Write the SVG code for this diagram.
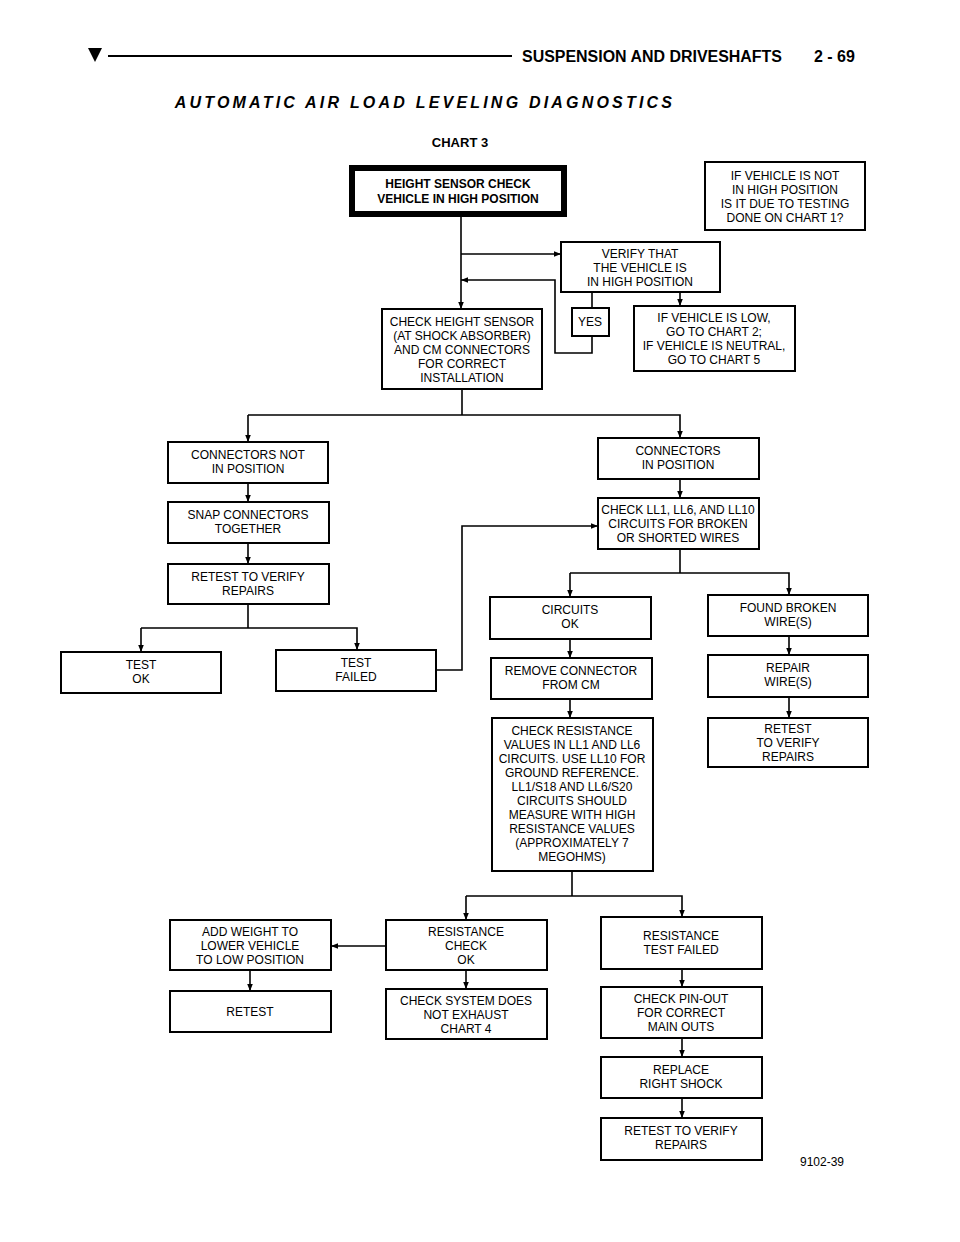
<svg xmlns="http://www.w3.org/2000/svg" width="960" height="1242" viewBox="0 0 960 1242">
<defs>
<marker id="ar" viewBox="0 0 10 10" refX="10" refY="5" markerWidth="7" markerHeight="7" orient="auto" markerUnits="userSpaceOnUse"><path d="M0,1 L10,5 L0,9 Z" fill="#000"/></marker>
</defs>
<style>
.b{fill:#fff;stroke:#000;stroke-width:2}
.t{font-family:"Liberation Sans",Arial,sans-serif;font-size:12px;text-anchor:middle;fill:#000}
.c{fill:none;stroke:#000;stroke-width:1.6}
.a{marker-end:url(#ar)}
</style>
<rect width="960" height="1242" fill="#fff"/>
<path d="M88,48 L102,48 L95,62 Z" fill="#000"/>
<line x1="108" y1="56" x2="512" y2="56" stroke="#000" stroke-width="2"/>
<text x="522" y="62" font-family="Liberation Sans,Arial,sans-serif" font-size="16" font-weight="bold" textLength="260" lengthAdjust="spacingAndGlyphs">SUSPENSION AND DRIVESHAFTS</text>
<text x="814" y="62" font-family="Liberation Sans,Arial,sans-serif" font-size="16" font-weight="bold">2 - 69</text>
<text x="425" y="108" font-family="Liberation Sans,Arial,sans-serif" font-size="16" font-weight="bold" font-style="italic" text-anchor="middle" letter-spacing="3.2">AUTOMATIC AIR LOAD LEVELING DIAGNOSTICS</text>
<text x="460" y="147" font-family="Liberation Sans,Arial,sans-serif" font-size="13" font-weight="bold" text-anchor="middle">CHART 3</text>
<text x="800" y="1166" font-family="Liberation Sans,Arial,sans-serif" font-size="12">9102-39</text>
<g id="connectors">
<path class="c a" d="M461,215 V309"/>
<path class="c a" d="M461,254 H561"/>
<path class="c" d="M592,292 V308"/>
<path class="c a" d="M592,336 V353 H555 V280 H461"/>
<path class="c a" d="M680,292 V306"/>
<path class="c" d="M462,389 V415"/>
<path class="c a" d="M248,415 H680 V438"/>
<path class="c a" d="M248,415 V442"/>
<path class="c a" d="M248,483 V502"/>
<path class="c a" d="M248,543 V564"/>
<path class="c" d="M248,604 V628"/>
<path class="c a" d="M141,628 H357 V650"/>
<path class="c a" d="M141,628 V652"/>
<path class="c a" d="M436,670 H462 V526 H598"/>
<path class="c a" d="M680,479 V498"/>
<path class="c" d="M680,549 V573"/>
<path class="c a" d="M570,573 H789 V595"/>
<path class="c a" d="M570,573 V597"/>
<path class="c a" d="M570,639 V658"/>
<path class="c a" d="M570,699 V718"/>
<path class="c a" d="M789,636 V655"/>
<path class="c a" d="M789,697 V718"/>
<path class="c" d="M572,871 V896"/>
<path class="c a" d="M466,896 H682 V917"/>
<path class="c a" d="M466,896 V920"/>
<path class="c a" d="M386,946 H331"/>
<path class="c a" d="M250,970 V991"/>
<path class="c a" d="M466,970 V989"/>
<path class="c a" d="M682,969 V987"/>
<path class="c a" d="M682,1038 V1057"/>
<path class="c a" d="M682,1098 V1118"/>
</g>
<g id="n-start"><rect x="352" y="168" width="212" height="46" fill="#fff" stroke="#000" stroke-width="6"/><text class="t" font-weight="bold" font-size="12.5" x="458" y="188">HEIGHT SENSOR CHECK</text><text class="t" font-weight="bold" font-size="12.5" x="458" y="203">VEHICLE IN HIGH POSITION</text></g>
<g id="n-note"><rect class="b" x="705" y="162" width="160" height="68"/><text class="t" x="785" y="180">IF VEHICLE IS NOT</text><text class="t" x="785" y="194">IN HIGH POSITION</text><text class="t" x="785" y="208">IS IT DUE TO TESTING</text><text class="t" x="785" y="222">DONE ON CHART 1?</text></g>
<g id="n-verify"><rect class="b" x="561" y="242" width="159" height="50"/><text class="t" x="640" y="258">VERIFY THAT</text><text class="t" x="640" y="272">THE VEHICLE IS</text><text class="t" x="640" y="286">IN HIGH POSITION</text></g>
<g id="n-yes"><rect class="b" x="572" y="308" width="37" height="28"/><text class="t" x="590" y="326">YES</text></g>
<g id="n-low"><rect class="b" x="634" y="306" width="161" height="65"/><text class="t" x="714" y="322">IF VEHICLE IS LOW,</text><text class="t" x="714" y="336">GO TO CHART 2;</text><text class="t" x="714" y="350">IF VEHICLE IS NEUTRAL,</text><text class="t" x="714" y="364">GO TO CHART 5</text></g>
<g id="n-checkhs"><rect class="b" x="382" y="309" width="160" height="80"/><text class="t" x="462" y="326">CHECK HEIGHT SENSOR</text><text class="t" x="462" y="340">(AT SHOCK ABSORBER)</text><text class="t" x="462" y="354">AND CM CONNECTORS</text><text class="t" x="462" y="368">FOR CORRECT</text><text class="t" x="462" y="382">INSTALLATION</text></g>
<g id="n-connnot"><rect class="b" x="168" y="442" width="160" height="41"/><text class="t" x="248" y="459">CONNECTORS NOT</text><text class="t" x="248" y="473">IN POSITION</text></g>
<g id="n-connin"><rect class="b" x="598" y="438" width="161" height="41"/><text class="t" x="678" y="455">CONNECTORS</text><text class="t" x="678" y="469">IN POSITION</text></g>
<g id="n-checkll"><rect class="b" x="598" y="498" width="161" height="51"/><text class="t" x="678" y="514">CHECK LL1, LL6, AND LL10</text><text class="t" x="678" y="528">CIRCUITS FOR BROKEN</text><text class="t" x="678" y="542">OR SHORTED WIRES</text></g>
<g id="n-snap"><rect class="b" x="168" y="502" width="161" height="41"/><text class="t" x="248" y="519">SNAP CONNECTORS</text><text class="t" x="248" y="533">TOGETHER</text></g>
<g id="n-retest1"><rect class="b" x="168" y="564" width="161" height="40"/><text class="t" x="248" y="581">RETEST TO VERIFY</text><text class="t" x="248" y="595">REPAIRS</text></g>
<g id="n-testok"><rect class="b" x="61" y="652" width="160" height="41"/><text class="t" x="141" y="669">TEST</text><text class="t" x="141" y="683">OK</text></g>
<g id="n-testfail"><rect class="b" x="276" y="650" width="160" height="41"/><text class="t" x="356" y="667">TEST</text><text class="t" x="356" y="681">FAILED</text></g>
<g id="n-circok"><rect class="b" x="490" y="597" width="161" height="42"/><text class="t" x="570" y="614">CIRCUITS</text><text class="t" x="570" y="628">OK</text></g>
<g id="n-found"><rect class="b" x="708" y="595" width="160" height="41"/><text class="t" x="788" y="612">FOUND BROKEN</text><text class="t" x="788" y="626">WIRE(S)</text></g>
<g id="n-remove"><rect class="b" x="491" y="658" width="161" height="41"/><text class="t" x="571" y="675">REMOVE CONNECTOR</text><text class="t" x="571" y="689">FROM CM</text></g>
<g id="n-repair"><rect class="b" x="708" y="655" width="160" height="42"/><text class="t" x="788" y="672">REPAIR</text><text class="t" x="788" y="686">WIRE(S)</text></g>
<g id="n-checkres"><rect class="b" x="492" y="718" width="161" height="153"/>
<text class="t" x="572" y="735">CHECK RESISTANCE</text><text class="t" x="572" y="749">VALUES IN LL1 AND LL6</text><text class="t" x="572" y="763">CIRCUITS. USE LL10 FOR</text><text class="t" x="572" y="777">GROUND REFERENCE.</text><text class="t" x="572" y="791">LL1/S18 AND LL6/S20</text><text class="t" x="572" y="805">CIRCUITS SHOULD</text><text class="t" x="572" y="819">MEASURE WITH HIGH</text><text class="t" x="572" y="833">RESISTANCE VALUES</text><text class="t" x="572" y="847">(APPROXIMATELY 7</text><text class="t" x="572" y="861">MEGOHMS)</text></g>
<g id="n-retest2"><rect class="b" x="708" y="718" width="160" height="49"/><text class="t" x="788" y="733">RETEST</text><text class="t" x="788" y="747">TO VERIFY</text><text class="t" x="788" y="761">REPAIRS</text></g>
<g id="n-addweight"><rect class="b" x="170" y="920" width="161" height="50"/><text class="t" x="250" y="936">ADD WEIGHT TO</text><text class="t" x="250" y="950">LOWER VEHICLE</text><text class="t" x="250" y="964">TO LOW POSITION</text></g>
<g id="n-resok"><rect class="b" x="386" y="920" width="161" height="50"/><text class="t" x="466" y="936">RESISTANCE</text><text class="t" x="466" y="950">CHECK</text><text class="t" x="466" y="964">OK</text></g>
<g id="n-resfail"><rect class="b" x="601" y="917" width="161" height="52"/><text class="t" x="681" y="940">RESISTANCE</text><text class="t" x="681" y="954">TEST FAILED</text></g>
<g id="n-retest3"><rect class="b" x="170" y="991" width="161" height="41"/><text class="t" x="250" y="1016">RETEST</text></g>
<g id="n-checksys"><rect class="b" x="386" y="989" width="161" height="50"/><text class="t" x="466" y="1005">CHECK SYSTEM DOES</text><text class="t" x="466" y="1019">NOT EXHAUST</text><text class="t" x="466" y="1033">CHART 4</text></g>
<g id="n-pinout"><rect class="b" x="601" y="987" width="161" height="51"/><text class="t" x="681" y="1003">CHECK PIN-OUT</text><text class="t" x="681" y="1017">FOR CORRECT</text><text class="t" x="681" y="1031">MAIN OUTS</text></g>
<g id="n-replace"><rect class="b" x="601" y="1057" width="161" height="41"/><text class="t" x="681" y="1074">REPLACE</text><text class="t" x="681" y="1088">RIGHT SHOCK</text></g>
<g id="n-retest4"><rect class="b" x="601" y="1118" width="161" height="42"/><text class="t" x="681" y="1135">RETEST TO VERIFY</text><text class="t" x="681" y="1149">REPAIRS</text></g>
</svg>
